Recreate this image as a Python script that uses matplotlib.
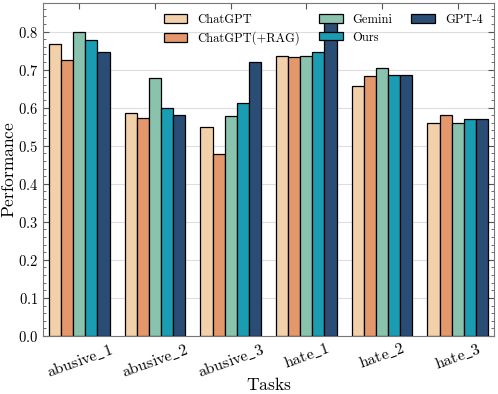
import numpy as np
import matplotlib
matplotlib.use("Agg")
import matplotlib.pyplot as plt

# Data
tasks = ["abusive_1", "abusive_2", "abusive_3", "hate_1", "hate_2", "hate_3"]
models = ["ChatGPT", "ChatGPT(+RAG)", "Gemini", "Ours", "GPT-4"]
chatgpt = [0.766, 0.585, 0.549, 0.737, 0.658, 0.560]
chatgpt_rag = [0.725, 0.573, 0.478, 0.733, 0.682, 0.581]
gemini = [0.799, 0.677, 0.578, 0.735, 0.705, 0.560]
ours = [0.779, 0.599, 0.612, 0.747, 0.686, 0.570]
gpt4 = [0.746, 0.582, 0.721, 0.840, 0.686, 0.570]
colors = ["#F2D0A9", "#E3976B", "#89C3AE", "#1A9CB3", "#2A4D75"]

plt.rcParams["font.family"] = ["cmr10", "DejaVu Serif"]
plt.rcParams["mathtext.fontset"] = "cm"
plt.rcParams["axes.formatter.use_mathtext"] = True
plt.rcParams["font.size"] = 10.5


def mt(s):
    # render through mathtext so underscores survive in Computer Modern
    return r"$\mathrm{%s}$" % s.replace("_", r"\_")


def main():
    series = [chatgpt, chatgpt_rag, gemini, ours, gpt4]
    x = np.arange(len(tasks))
    width = 0.16

    fig = plt.figure(figsize=(4.98, 3.94), dpi=100)
    ax = fig.add_axes([43 / 498, 58 / 394, 451 / 498, 333 / 394])
    for j, (vals, name) in enumerate(zip(series, models)):
        ax.bar(x + (j - 2) * width, vals, width, color=colors[j],
               edgecolor="black", linewidth=0.9, label=name, zorder=3)

    ax.set_xlim(-0.48, 5.48)
    ax.set_ylim(0, 0.875)
    ax.set_yticks(np.arange(0, 0.81, 0.1))
    ax.set_yticks(np.arange(0, 0.875, 0.02), minor=True)
    ax.set_xticks(x)
    ax.set_xticklabels([mt(t) for t in tasks], rotation=20, fontsize=11.5)
    ax.tick_params(which="both", direction="in", top=True, right=True, color="#555555")
    ax.tick_params(which="major", length=4)
    ax.tick_params(which="minor", length=2)
    ax.tick_params(axis="x", which="minor", bottom=False, top=False)
    for s in ax.spines.values():
        s.set_color("#777777")
    ax.grid(axis="y", color="#dddddd", linewidth=0.8, zorder=0)

    ax.set_xlabel(mt("Tasks"), fontsize=12.5)
    ax.set_ylabel(mt("Performance"), fontsize=12.5)
    ax.xaxis.set_label_coords(0.5, -0.12)
    ax.yaxis.set_label_coords(-0.058, 0.5)
    ax.legend(ncol=3, frameon=False, loc="upper right", fontsize=9,
              handlelength=1.9, handleheight=0.65, handletextpad=0.8,
              columnspacing=1.5, borderaxespad=0.3, labelspacing=0.45,
              bbox_to_anchor=(0.995, 0.994))

    fig.savefig("out.png", dpi=100)
    plt.close(fig)


if __name__ == "__main__":
    main()
